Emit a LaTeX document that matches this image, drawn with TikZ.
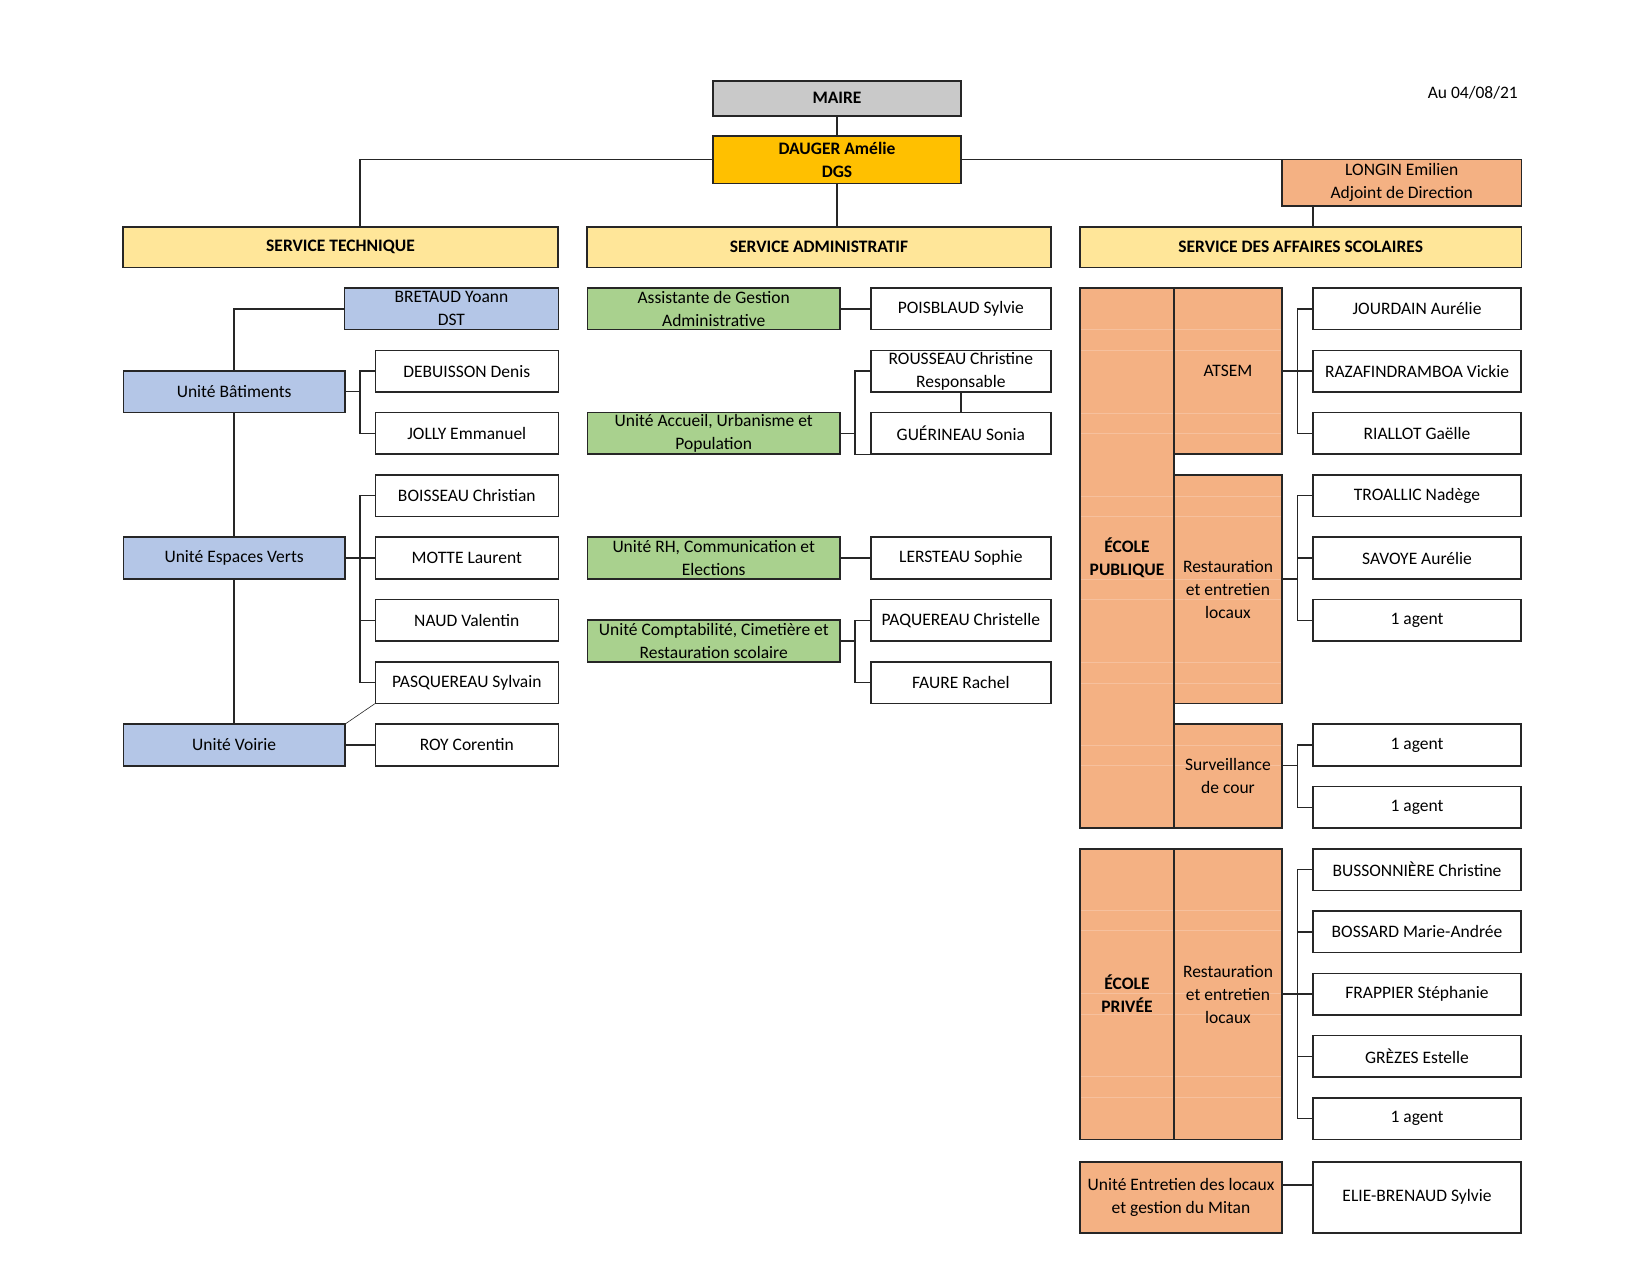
\documentclass[tikz,border=0pt]{standalone}
\usepackage{fontspec}
\setmainfont{Carlito}
\definecolor{grayc}{HTML}{C9C9C9}
\definecolor{dgsc}{HTML}{FFC000}
\definecolor{servc}{HTML}{FFE699}
\definecolor{bluec}{HTML}{B4C6E7}
\definecolor{greenc}{HTML}{A9D18E}
\definecolor{orc}{HTML}{F4B183}
\definecolor{faintc}{HTML}{F6C09D}
\definecolor{linec}{HTML}{262626}
\newcommand\bxo[6]{%
  \pgfmathsetmacro\mybw{#4-#2}\pgfmathsetmacro\mybh{#5-#3}%
  \pgfmathsetmacro\mybcx{(#2+#4)/2}\pgfmathsetmacro\mybcy{(#3+#5)/2}%
  \node[box,#6,minimum width=\mybw pt,minimum height=\mybh pt] (#1) at (\mybcx,\mybcy) {};}
\newcommand\bx[8]{%
  \bxo{#1}{#2}{#3}{#4}{#5}{#6}%
  \node[#7] at (#1.center) {#8};}
\begin{document}
\begin{tikzpicture}[x=1pt,y=-1pt,
  box/.style={draw=linec,line width=1.6pt,inner sep=0pt,outer sep=0pt,rectangle},
  wb/.style={fill=white},
  bl/.style={fill=bluec},
  gr/.style={fill=greenc},
  orb/.style={fill=orc},
  sv/.style={fill=servc},
  conn/.style={draw=linec,line width=1.4pt},
  thinconn/.style={draw=linec,line width=0.6pt},
  faint/.style={draw=faintc,line width=0.7pt},
  tx/.style={align=center,inner sep=0pt,font=\fontsize{17.5}{23}\selectfont},
  btx/.style={align=center,inner sep=0pt,font=\fontsize{17.5}{23}\selectfont\bfseries}]
\useasboundingbox (0,0) rectangle (1650,1275);

% top
\bx{maire}{713}{80.7}{961}{115.7}{fill=grayc}{btx}{MAIRE}
\bx{dgs}{713}{136}{961}{183.3}{fill=dgsc}{btx}{DAUGER Amélie\\DGS}
\bx{longin}{1282}{159.3}{1521.4}{206}{orb}{tx}{LONGIN Emilien\\Adjoint de Direction}
\bx{st}{123}{226.7}{558}{267.3}{sv}{btx}{SERVICE TECHNIQUE}
\bx{sa}{586.8}{226.7}{1051}{267.3}{sv}{btx}{SERVICE ADMINISTRATIF}
\bx{sas}{1080}{226.7}{1521.4}{267.3}{sv}{btx}{SERVICE DES AFFAIRES SCOLAIRES}
\node[tx,anchor=east] (date) at (1518,92.7) {Au 04/08/21};

% technique
\bx{bretaud}{344.5}{288}{558.3}{329.6}{bl}{tx}{BRETAUD Yoann\\DST}
\bx{bat}{123.3}{370.7}{345}{412.3}{bl}{tx}{Unité Bâtiments}
\bx{ev}{123.3}{537.2}{345}{578.8}{bl}{tx}{Unité Espaces Verts}
\bx{voirie}{123.3}{724.1}{345}{765.7}{bl}{tx}{Unité Voirie}
\bx{deb}{375.3}{350.3}{558.3}{391.9}{wb}{tx}{DEBUISSON Denis}
\bx{jol}{375.3}{412.6}{558.3}{454.2}{wb}{tx}{JOLLY Emmanuel}
\bx{boi}{375.3}{474.9}{558.3}{516.5}{wb}{tx}{BOISSEAU Christian}
\bx{mot}{375.3}{537.2}{558.3}{578.8}{wb}{tx}{MOTTE Laurent}
\bx{naud}{375.3}{599.5}{558.3}{641.1}{wb}{tx}{NAUD Valentin}
\bx{pasq}{375.3}{661.8}{558.3}{703.4}{wb}{tx}{PASQUEREAU Sylvain}
\bx{roy}{375.3}{724.1}{558.3}{765.7}{wb}{tx}{ROY Corentin}

% administratif
\bx{assist}{587.5}{288}{840}{329.6}{gr}{tx}{Assistante de Gestion\\Administrative}
\bx{accueil}{587.5}{412.6}{840}{454.2}{gr}{tx}{Unité Accueil, Urbanisme et\\Population}
\bx{rh}{587.5}{537.2}{840}{578.8}{gr}{tx}{Unité RH, Communication et\\Elections}
\bx{compta}{587.5}{620}{840}{661.7}{gr}{tx}{Unité Comptabilité, Cimetière et\\Restauration scolaire}
\bx{pois}{870.7}{288}{1051}{329.6}{wb}{tx}{POISBLAUD Sylvie}
\bx{rous}{870.7}{350.3}{1051}{391.9}{wb}{tx}{ROUSSEAU Christine\\Responsable}
\bx{gue}{870.7}{412.6}{1051}{454.2}{wb}{tx}{GUÉRINEAU Sonia}
\bx{lers}{870.7}{537.2}{1051}{578.8}{wb}{tx}{LERSTEAU Sophie}
\bx{paq}{870.7}{599.5}{1051}{641.1}{wb}{tx}{PAQUEREAU Christelle}
\bx{faure}{870.7}{661.8}{1051}{703.4}{wb}{tx}{FAURE Rachel}

% affaires scolaires : boxes, faint grid, then texts
\bxo{epub}{1080}{288}{1174}{828}{orb}
\bxo{atsem}{1174}{288}{1282}{454.2}{orb}
\bxo{resp}{1174}{474.9}{1282}{703.4}{orb}
\bxo{surv}{1174}{724.1}{1282}{828}{orb}
\bxo{epriv}{1080}{848.7}{1174}{1139.5}{orb}
\bxo{respr}{1174}{848.7}{1282}{1139.5}{orb}
\foreach \yy in {329.5,350.4,413,433.6,496,516.4,579,599.6,662,682.9,745,765.7,910,930.7,993.3,1014,1076.7,1097.3}{
  \draw[faint] (1081,\yy) -- (1173,\yy) (1175,\yy) -- (1281,\yy);}
\node[btx] at (epub.center) {ÉCOLE\\PUBLIQUE};
\node[tx] at (atsem.center) {ATSEM};
\node[tx] at (resp.center) {Restauration\\et entretien\\locaux};
\node[tx] at (surv.center) {Surveillance\\de cour};
\node[btx] at (epriv.center) {ÉCOLE\\PRIVÉE};
\node[tx] at (respr.center) {Restauration\\et entretien\\locaux};

\bx{jour}{1312.8}{288}{1521.2}{329.6}{wb}{tx}{JOURDAIN Aurélie}
\bx{raz}{1312.8}{350.3}{1521.2}{391.9}{wb}{tx}{RAZAFINDRAMBOA Vickie}
\bx{rial}{1312.8}{412.6}{1521.2}{454.2}{wb}{tx}{RIALLOT Gaëlle}
\bx{troa}{1312.8}{474.9}{1521.2}{516.5}{wb}{tx}{TROALLIC Nadège}
\bx{sav}{1312.8}{537.2}{1521.2}{578.8}{wb}{tx}{SAVOYE Aurélie}
\bx{agA}{1312.8}{599.5}{1521.2}{641.1}{wb}{tx}{1 agent}
\bx{agB}{1312.8}{724.1}{1521.2}{765.7}{wb}{tx}{1 agent}
\bx{agC}{1312.8}{786.4}{1521.2}{828}{wb}{tx}{1 agent}

\bx{buss}{1312.8}{848.7}{1521.2}{890.3}{wb}{tx}{BUSSONNIÈRE Christine}
\bx{boss}{1312.8}{911}{1521.2}{952.6}{wb}{tx}{BOSSARD Marie-Andrée}
\bx{frap}{1312.8}{973.3}{1521.2}{1014.9}{wb}{tx}{FRAPPIER Stéphanie}
\bx{grez}{1312.8}{1035.6}{1521.2}{1077.2}{wb}{tx}{GRÈZES Estelle}
\bx{agD}{1312.8}{1097.9}{1521.2}{1139.5}{wb}{tx}{1 agent}

\bx{ent}{1080}{1161.7}{1282}{1232.7}{orb}{tx}{Unité Entretien des locaux\\et gestion du Mitan}
\bx{elie}{1312.8}{1161.7}{1521.2}{1232.7}{wb}{tx}{ELIE-BRENAUD Sylvie}

% junction coordinates
\coordinate (stj) at (360,226.7);
\coordinate (bxT) at (360,0);
\coordinate (bxA) at (855,0);
\coordinate (bxS) at (1297.3,0);
\coordinate (entj) at (1282,1185);

% connectors top
\draw[conn] (maire.south) -- (dgs.north);
\draw[conn] (dgs.west) -| (stj);
\draw[conn] (dgs.east) -- (dgs.east -| longin.west);
\draw[conn] (dgs.south) -- (dgs.south |- sa.north);
\draw[conn] (longin.south -| jour.west) -- (sas.north -| jour.west);

% technique
\draw[conn] (bretaud.west) -| (bat.north);
\draw[conn] (bat.south) -- (ev.north);
\draw[conn] (ev.south) -- (voirie.north);
\draw[conn] (bat.east) -- (bat.east -| bxT);
\draw[conn] (deb.west) -- (deb.west -| bxT) -- (jol.west -| bxT) -- (jol.west);
\draw[conn] (ev.east) -- (mot.west);
\draw[conn] (boi.west) -- (boi.west -| bxT) -- (pasq.west -| bxT) -- (pasq.west);
\draw[conn] (naud.west) -- (naud.west -| bxT);
\draw[thinconn] (voirie.north east) -- (pasq.south west);
\draw[conn] (voirie.east) -- (roy.west);

% administratif
\draw[conn] (assist.east) -- (pois.west);
\draw[conn] (accueil.east) -- (accueil.east -| bxA);
\draw[conn] (rous.west) -- (rous.west -| bxA) -- (gue.south west -| bxA) -- (gue.south west);
\draw[conn] (rous.south) -- (gue.north);
\draw[conn] (rh.east) -- (lers.west);
\draw[conn] (compta.east) -- (compta.east -| bxA);
\draw[conn] (paq.west) -- (paq.west -| bxA) -- (faure.west -| bxA) -- (faure.west);

% affaires scolaires
\draw[conn] (atsem.east) -- (atsem.east -| bxS);
\draw[conn] (jour.west) -- (jour.west -| bxS) -- (rial.west -| bxS) -- (rial.west);
\draw[conn] (raz.west) -- (raz.west -| bxS);
\draw[conn] (sav.south -| resp.east) -- (sav.south -| bxS);
\draw[conn] (troa.west) -- (troa.west -| bxS) -- (agA.west -| bxS) -- (agA.west);
\draw[conn] (sav.west) -- (sav.west -| bxS);
\draw[conn] (agB.south -| surv.east) -- (agB.south -| bxS);
\draw[conn] (agB.west) -- (agB.west -| bxS) -- (agC.west -| bxS) -- (agC.west);
\draw[conn] (respr.east) -- (respr.east -| bxS);
\draw[conn] (buss.west) -- (buss.west -| bxS) -- (agD.west -| bxS) -- (agD.west);
\draw[conn] (boss.west) -- (boss.west -| bxS);
\draw[conn] (frap.west) -- (frap.west -| bxS);
\draw[conn] (grez.west) -- (grez.west -| bxS);
\draw[conn] (entj) -- (entj -| elie.west);
\end{tikzpicture}
\end{document}
